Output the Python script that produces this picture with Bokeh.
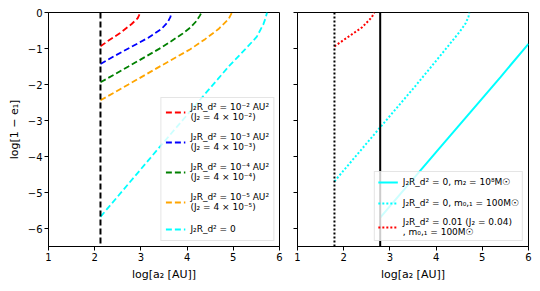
from bokeh.plotting import figure
from bokeh.layouts import row
from bokeh.models import Range1d, Legend, LegendItem, Span, FixedTicker
from bokeh.embed import file_html
from bokeh.resources import INLINE

# ---- data ----
a_min_left = 2.125
red_x = [2.125, 2.30, 2.55, 2.80, 2.93, 2.96, 2.985]
red_y = [-0.94, -0.78, -0.57, -0.32, -0.16, -0.08, 0.0]
blue_x = [2.125, 2.44, 2.80, 3.16, 3.45, 3.58, 3.64, 3.66]
blue_y = [-1.43, -1.20, -0.95, -0.70, -0.45, -0.27, -0.12, 0.0]
green_x = [2.125, 2.73, 3.45, 3.89, 4.07, 4.20, 4.28, 4.31]
green_y = [-1.94, -1.50, -0.97, -0.60, -0.42, -0.24, -0.08, 0.0]
orange_x = [2.125, 2.73, 3.45, 4.07, 4.39, 4.68, 4.90, 4.97]
orange_y = [-2.44, -2.00, -1.47, -1.02, -0.74, -0.46, -0.18, 0.0]
cyan_x = [2.125, 2.73, 3.45, 4.07, 4.43, 4.90, 5.26, 5.51, 5.65, 5.70, 5.73]
cyan_y = [-5.675, -4.76, -3.67, -2.74, -2.20, -1.50, -1.02, -0.67, -0.33, -0.15, 0.0]

a_dot_right = 1.80
a_solid_right = 2.79
r_red_x = [1.80, 2.14, 2.40, 2.61, 2.66]
r_red_y = [-0.94, -0.64, -0.41, -0.13, 0.0]
r_cyd_x = [1.80, 2.79, 3.54, 3.88, 4.23, 4.52, 4.64, 4.70, 4.72]
r_cyd_y = [-4.69, -3.19, -2.06, -1.53, -0.98, -0.52, -0.30, -0.12, 0.0]
r_cys_x = [2.79, 3.44, 4.00, 4.73, 5.39, 6.00]
r_cys_y = [-5.70, -4.72, -3.88, -2.79, -1.80, -0.87]

x_ticks = [1, 2, 3, 4, 5, 6]
y_ticks = [0, -1, -2, -3, -4, -5, -6]

left_labels = [
    "J\u2082R_d\u00b2 = 10\u207b\u00b2 AU\u00b2\n(J\u2082 = 4 \u00d7 10\u207b\u00b2)",
    "J\u2082R_d\u00b2 = 10\u207b\u00b3 AU\u00b2\n(J\u2082 = 4 \u00d7 10\u207b\u00b3)",
    "J\u2082R_d\u00b2 = 10\u207b\u2074 AU\u00b2\n(J\u2082 = 4 \u00d7 10\u207b\u2074)",
    "J\u2082R_d\u00b2 = 10\u207b\u2075 AU\u00b2\n(J\u2082 = 4 \u00d7 10\u207b\u2075)",
    "J\u2082R_d\u00b2 = 0",
]
right_labels = [
    "J\u2082R_d\u00b2 = 0, m\u2082 = 10\u2078M\u2609",
    "J\u2082R_d\u00b2 = 0, m\u2080,\u2081 = 100M\u2609",
    "J\u2082R_d\u00b2 = 0.01 (J\u2082 = 0.04)\n, m\u2080,\u2081 = 100M\u2609",
]

FONT = "DejaVu Sans"


def style(p, show_ylabels):
    p.x_range = Range1d(1, 6)
    p.y_range = Range1d(-6.5, 0)
    p.xgrid.visible = False
    p.ygrid.visible = False
    p.outline_line_color = "black"
    p.outline_line_width = 1
    p.outline_line_alpha = 1
    for ax in (p.xaxis[0], p.yaxis[0]):
        ax.axis_line_color = "black"
        ax.major_tick_line_color = "black"
        ax.major_tick_out = 4
        ax.major_tick_in = 0
        ax.minor_tick_line_color = None
        ax.major_label_text_font = FONT
        ax.major_label_text_font_size = "10px"
        ax.major_label_text_color = "black"
        ax.axis_label_text_font = FONT
        ax.axis_label_text_font_size = "11px"
        ax.axis_label_text_font_style = "normal"
        ax.axis_label_text_color = "black"
        ax.major_label_standoff = 2
        ax.axis_label_standoff = 4
    p.xaxis.ticker = FixedTicker(ticks=x_ticks)
    p.yaxis.ticker = FixedTicker(ticks=y_ticks)
    p.yaxis.major_label_overrides = {t: (str(t).replace("-", "\u2212") if show_ylabels else "") for t in y_ticks}
    p.xaxis.axis_label = "log[a\u2082 [AU]]"


p1 = figure(width=288, height=291, output_backend="svg", toolbar_location=None,
            min_border_left=48, min_border_right=9, min_border_top=12, min_border_bottom=45)
style(p1, True)
p1.yaxis.axis_label = "log[1 \u2212 e\u2081]"

p1.add_layout(Span(location=a_min_left, dimension="height", line_color="black",
                   line_width=2, line_dash="6 3"))
lw = 1.8
dash = "6 3"
r1 = p1.line(red_x, red_y, line_color="red", line_width=lw, line_dash=dash)
r2 = p1.line(blue_x, blue_y, line_color="blue", line_width=lw, line_dash=dash)
r3 = p1.line(green_x, green_y, line_color="green", line_width=lw, line_dash=dash)
r4 = p1.line(orange_x, orange_y, line_color="orange", line_width=lw, line_dash=dash)
r5 = p1.line(cyan_x, cyan_y, line_color="cyan", line_width=lw, line_dash=dash)

leg1 = Legend(items=[LegendItem(label=l, renderers=[r]) for l, r in zip(left_labels, [r1, r2, r3, r4, r5])],
              location="bottom_right", spacing=10, padding=4)
p1.add_layout(leg1)

p2 = figure(width=252, height=291, output_backend="svg", toolbar_location=None,
            min_border_left=9, min_border_right=12, min_border_top=12, min_border_bottom=45)
style(p2, False)

p2.add_layout(Span(location=a_dot_right, dimension="height", line_color="black",
                   line_width=2, line_dash="2 2"))
p2.add_layout(Span(location=a_solid_right, dimension="height", line_color="black",
                   line_width=2))
s1 = p2.line(r_cys_x, r_cys_y, line_color="cyan", line_width=2)
s2 = p2.line(r_cyd_x, r_cyd_y, line_color="cyan", line_width=2, line_dash="2 2")
s3 = p2.line(r_red_x, r_red_y, line_color="red", line_width=2, line_dash="2 2")
leg2 = Legend(items=[LegendItem(label=l, renderers=[r]) for l, r in zip(right_labels, [s1, s2, s3])],
              location="bottom_right", spacing=7, padding=3)
p2.add_layout(leg2)

for lg in (leg1, leg2):
    lg.label_text_font = FONT
    lg.label_text_font_size = "9px"
    lg.label_text_color = "black"
    lg.background_fill_color = "white"
    lg.background_fill_alpha = 0.8
    lg.border_line_color = "#cccccc"
    lg.border_line_width = 1
    lg.margin = 5
    lg.glyph_width = 20
    lg.glyph_height = 14
    lg.label_height = 14
    lg.label_standoff = 5

layout = row(p1, p2)
open("out.html", "w").write(file_html(layout, INLINE))
